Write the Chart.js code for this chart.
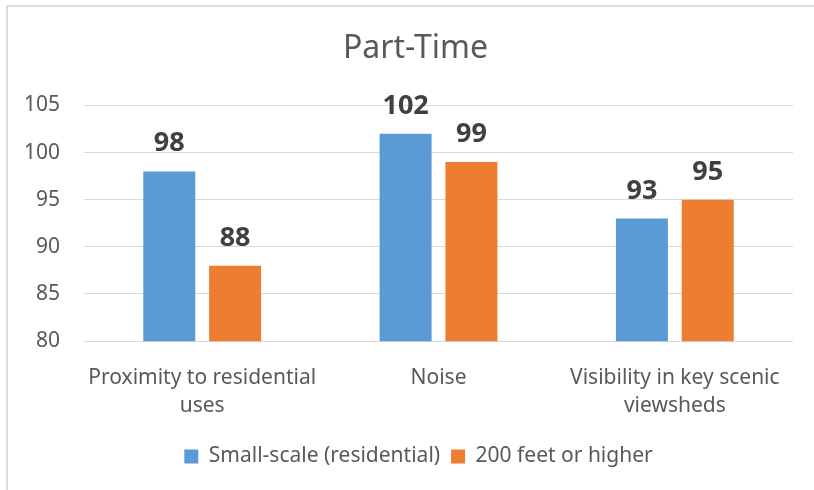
<!DOCTYPE html>
<html>
<head>
<meta charset="utf-8">
<script src="https://cdn.jsdelivr.net/npm/chart.js@4"></script>
<style>
  html, body { margin: 0; padding: 0; background: #fff; }
  #wrap { position: relative; width: 814px; height: 490px; overflow: hidden; }
  #frame { position: absolute; left: 6px; top: 5px; width: 820px; height: 500px; border-left: 2px solid #dedede; border-top: 2px solid #dedede; }
  canvas { position: absolute; left: 0; top: 0; }
</style>
</head>
<body>
<div id="wrap">
  <div id="frame"></div>
  <canvas id="myChart" width="814" height="490"></canvas>
</div>
<script>
// donnees
var categories = [['Proximity to residential', 'uses'], 'Noise', ['Visibility in key scenic', 'viewsheds']];
var smallScale = [98, 102, 93];
var tallTurbines = [88, 99, 95];
var seriesNames = ['Small-scale (residential)', '200 feet or higher'];
var yTicks = [80, 85, 90, 95, 100, 105];

var fontFamily = '"Noto Sans", sans-serif';

// etiquettes au-dessus des barres
var barLabels = {
    id: 'barLabels',
    afterDatasetsDraw: function(chart) {
        var ctx = chart.ctx;
        ctx.save();
        ctx.font = 'bold 27px ' + fontFamily;
        ctx.fillStyle = '#404040';
        ctx.textAlign = 'center';
        ctx.textBaseline = 'alphabetic';
        chart.data.datasets.forEach(function(ds, i) {
            chart.getDatasetMeta(i).data.forEach(function(bar, j) {
                ctx.fillText(ds.data[j], bar.x, bar.y - 20);
            });
        });
        ctx.restore();
    }
};

// recentrer titre et legende sur la zone du graphique
var centerShift = {
    id: 'centerShift',
    afterLayout: function(chart) {
        chart.legend.left += 22;
        chart.legend.right += 22;
        chart.titleBlock.left += 19;
        chart.titleBlock.right += 19;
    }
};

var ctx = document.getElementById('myChart').getContext('2d');
var myChart = new Chart(ctx, {
    type: 'bar',
    data: {
        labels: categories,
        datasets: [{
            label: seriesNames[0],
            data: smallScale,
            backgroundColor: '#5B9BD5'
        }, {
            label: seriesNames[1],
            data: tallTurbines,
            backgroundColor: '#ED7D31'
        }]
    },
    options: {
        responsive: false,
        animation: false,
        layout: { padding: { top: 30, left: 0, right: 21, bottom: 13 } },
        datasets: {
            bar: { categoryPercentage: 0.557, barPercentage: 0.79 }
        },
        plugins: {
            title: {
                display: true,
                text: 'Part-Time',
                color: '#595959',
                font: { family: fontFamily, size: 32, weight: 'normal' },
                padding: { top: 0, bottom: 37 }
            },
            legend: {
                position: 'bottom',
                labels: {
                    color: '#595959',
                    font: { family: fontFamily, size: 21 },
                    boxWidth: 14,
                    boxHeight: 14,
                    padding: 11
                }
            },
            tooltip: { enabled: false }
        },
        scales: {
            x: {
                grid: { display: false },
                border: { display: false },
                ticks: {
                    color: '#595959',
                    font: { family: fontFamily, size: 21, lineHeight: 1.33 },
                    padding: 15,
                    maxRotation: 0
                }
            },
            y: {
                min: yTicks[0],
                max: yTicks[yTicks.length - 1],
                afterBuildTicks: function(axis) {
                    axis.ticks = yTicks.map(function(v) { return { value: v }; });
                },
                grid: { color: '#d9d9d9', lineWidth: 1, drawTicks: false },
                border: { display: false },
                ticks: {
                    color: '#595959',
                    font: { family: fontFamily, size: 21 },
                    padding: 24
                }
            }
        }
    },
    plugins: [barLabels, centerShift]
});
</script>
</body>
</html>
